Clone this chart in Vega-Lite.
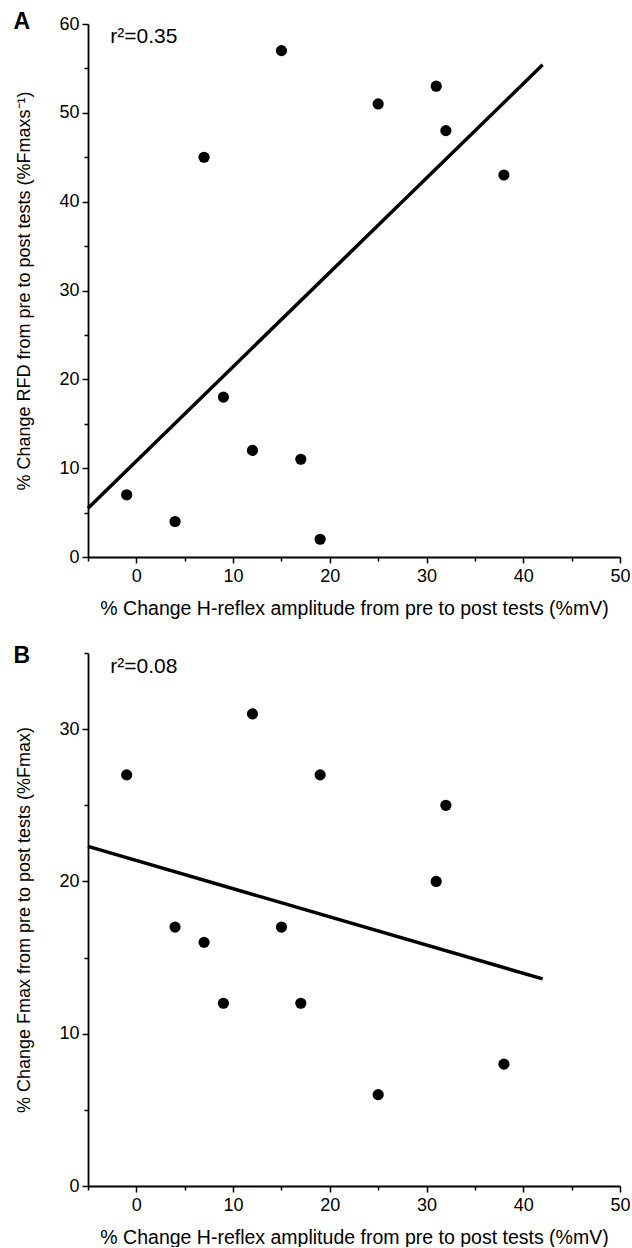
{
  "$schema": "https://vega.github.io/schema/vega-lite/v6.json",
  "padding": {"left": 13, "top": 10, "right": 0, "bottom": 0},
  "background": "white",
  "spacing": 26,
  "config": {
    "font": "Liberation Sans",
    "view": {"stroke": null},
    "axis": {
      "grid": false,
      "domainColor": "black",
      "domainWidth": 1.8,
      "tickColor": "black",
      "tickWidth": 1.5,
      "labelColor": "black",
      "labelFont": "Liberation Sans",
      "labelFontSize": 18,
      "labelFlush": false,
      "labelOverlap": false,
      "titleFont": "Liberation Sans",
      "titleFontWeight": "normal",
      "titleColor": "black"
    }
  },
  "datasets": {
    "rfd": [
      {"h": -1, "v": 7}, {"h": 4, "v": 4}, {"h": 7, "v": 45}, {"h": 9, "v": 18},
      {"h": 12, "v": 12}, {"h": 15, "v": 57}, {"h": 17, "v": 11}, {"h": 19, "v": 2},
      {"h": 25, "v": 51}, {"h": 31, "v": 53}, {"h": 32, "v": 48}, {"h": 38, "v": 43}
    ],
    "fmax": [
      {"h": -1, "v": 27}, {"h": 4, "v": 17}, {"h": 7, "v": 16}, {"h": 9, "v": 12},
      {"h": 12, "v": 31}, {"h": 15, "v": 17}, {"h": 17, "v": 12}, {"h": 19, "v": 27},
      {"h": 25, "v": 6}, {"h": 31, "v": 20}, {"h": 32, "v": 25}, {"h": 38, "v": 8}
    ],
    "fitA": [{"h": -5, "v": 5.5}, {"h": 42, "v": 55.4}],
    "fitB": [{"h": -5, "v": 22.3}, {"h": 42, "v": 13.6}],
    "one": [{"k": 1}]
  },
  "vconcat": [
    {
      "width": 532,
      "height": 533,
      "layer": [
        {
          "data": {"name": "fitA"},
          "mark": {"type": "line", "color": "black", "strokeWidth": 3.5},
          "encoding": {
            "x": {"field": "h", "type": "quantitative",
              "scale": {"domain": [-5, 50], "nice": false, "zero": false},
              "axis": {
                "title": "% Change H-reflex amplitude from pre to post tests (%mV)",
                "titleFontSize": 19.5,
                "titlePadding": 14,
                "values": [-5, 0, 5, 10, 15, 20, 25, 30, 35, 40, 45, 50],
                "labelExpr": "datum.value % 10 === 0 ? datum.label : ''",
                "tickSize": {"condition": {"test": "datum.value % 10 === 0", "value": 6}, "value": 4},
                "labelPadding": 4
              }},
            "y": {"field": "v", "type": "quantitative",
              "scale": {"domain": [0, 60], "nice": false, "zero": false},
              "axis": {
                "title": "% Change RFD from pre to post tests (%Fmaxs⁻¹)",
                "titleFontSize": 18,
                "titlePadding": 25,
                "values": [0, 5, 10, 15, 20, 25, 30, 35, 40, 45, 50, 55, 60],
                "labelExpr": "datum.value % 10 === 0 ? datum.label : ''",
                "tickSize": {"condition": {"test": "datum.value % 10 === 0", "value": 6}, "value": 4},
                "labelPadding": 3
              }}
          }
        },
        {
          "data": {"name": "rfd"},
          "mark": {"type": "circle", "color": "black", "opacity": 1, "size": 125},
          "encoding": {
            "x": {"field": "h", "type": "quantitative"},
            "y": {"field": "v", "type": "quantitative"}
          }
        },
        {
          "data": {"name": "one"},
          "mark": {"type": "text", "align": "left", "baseline": "middle", "fontSize": 21, "color": "black"},
          "encoding": {
            "x": {"datum": -2.7, "type": "quantitative"},
            "y": {"datum": 58.5, "type": "quantitative"},
            "text": {"value": "r²=0.35"}
          }
        },
        {
          "data": {"name": "one"},
          "mark": {"type": "text", "align": "left", "baseline": "middle", "fontSize": 23, "fontWeight": "bold", "color": "black"},
          "encoding": {
            "x": {"datum": -12.7, "type": "quantitative"},
            "y": {"datum": 60.26, "type": "quantitative"},
            "text": {"value": "A"}
          }
        }
      ]
    },
    {
      "width": 532,
      "height": 533,
      "layer": [
        {
          "data": {"name": "fitB"},
          "mark": {"type": "line", "color": "black", "strokeWidth": 3.5},
          "encoding": {
            "x": {"field": "h", "type": "quantitative",
              "scale": {"domain": [-5, 50], "nice": false, "zero": false},
              "axis": {
                "title": "% Change H-reflex amplitude from pre to post tests (%mV)",
                "titleFontSize": 19.5,
                "titlePadding": 14,
                "values": [-5, 0, 5, 10, 15, 20, 25, 30, 35, 40, 45, 50],
                "labelExpr": "datum.value % 10 === 0 ? datum.label : ''",
                "tickSize": {"condition": {"test": "datum.value % 10 === 0", "value": 6}, "value": 4},
                "labelPadding": 4
              }},
            "y": {"field": "v", "type": "quantitative",
              "scale": {"domain": [0, 35], "nice": false, "zero": false},
              "axis": {
                "title": "% Change Fmax from pre to post tests (%Fmax)",
                "titleFontSize": 18,
                "titlePadding": 25,
                "values": [0, 5, 10, 15, 20, 25, 30, 35],
                "labelExpr": "datum.value % 10 === 0 ? datum.label : ''",
                "tickSize": {"condition": {"test": "datum.value % 10 === 0", "value": 6}, "value": 4},
                "labelPadding": 3
              }}
          }
        },
        {
          "data": {"name": "fmax"},
          "mark": {"type": "circle", "color": "black", "opacity": 1, "size": 125},
          "encoding": {
            "x": {"field": "h", "type": "quantitative"},
            "y": {"field": "v", "type": "quantitative"}
          }
        },
        {
          "data": {"name": "one"},
          "mark": {"type": "text", "align": "left", "baseline": "middle", "fontSize": 21, "color": "black"},
          "encoding": {
            "x": {"datum": -2.7, "type": "quantitative"},
            "y": {"datum": 34.05, "type": "quantitative"},
            "text": {"value": "r²=0.08"}
          }
        },
        {
          "data": {"name": "one"},
          "mark": {"type": "text", "align": "left", "baseline": "middle", "fontSize": 23, "fontWeight": "bold", "color": "black"},
          "encoding": {
            "x": {"datum": -12.7, "type": "quantitative"},
            "y": {"datum": 34.78, "type": "quantitative"},
            "text": {"value": "B"}
          }
        }
      ]
    }
  ]
}
